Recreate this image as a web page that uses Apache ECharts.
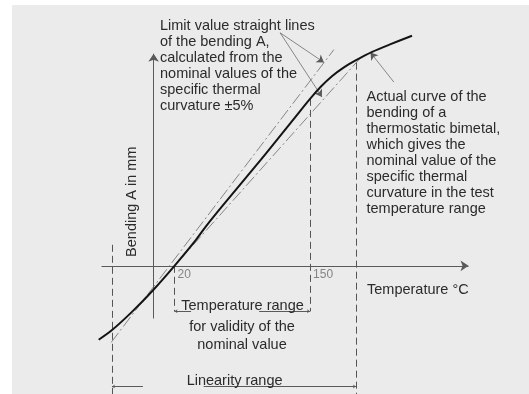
<!DOCTYPE html>
<html>
<head>
<meta charset="utf-8">
<script src="https://cdn.jsdelivr.net/npm/echarts@6/dist/echarts.min.js"></script>
<style>
  html, body { margin: 0; padding: 0; background: #fff; }
  #chart { width: 529px; height: 394px; }
</style>
</head>
<body>
<div id="chart"></div>
<script>
// Bending of a thermostatic bimetal against temperature (schematic).
const temps   = [-52.7, -40.5, -20.8, -0.8, 20, 40, 50, 66.2, 102.9, 134.7, 150, 160.5, 171.0, 182.5, 193.7, 209.6, 226.1, 247.8];
const bending = [-7.5, -6.57, -4.67, -2.5, 0, 2.55, 3.98, 6.1, 10.76, 14.93, 16.93, 18.18, 19.23, 20.13, 20.83, 21.7, 22.43, 23.33];

// Limit value straight lines (nominal specific thermal curvature +/-5 %)
const upperLimit = [[-40.7, -7.77], [172.9, 21.93]];
const lowerLimit = [[-0.8, -2.47], [198.5, 21.1]];

// Temperature range for validity of the nominal value and linearity range
const validityRange  = [20, 150];
const linearityRange = [-40, 194];
const tickLabels = [20, 150];

const curve = temps.map((t, i) => [t, bending[i]]);
const bendingAt = t => {
  const i = temps.indexOf(t);
  return i >= 0 ? bending[i] : 0;
};

const FONT = '14.5px "Liberation Sans", Arial, Helvetica, sans-serif';
const INK = '#2b2b2b';

const chart = echarts.init(document.getElementById('chart'), null, { renderer: 'canvas' });

function label(text, x, y, align, extra) {
  return Object.assign({
    type: 'text', z: 10, silent: true,
    style: {
      text: text, x: x, y: y, font: FONT, fill: INK, lineHeight: 16,
      textAlign: align, align: align,
      textVerticalAlign: 'middle', verticalAlign: 'middle'
    }
  }, extra || {});
}

const option = {
  backgroundColor: '#ffffff',
  animation: false,
  grid: { left: 7.66, width: 523, top: 19.3, height: 380, containLabel: false },
  xAxis: { type: 'value', min: -140, max: 360, show: false },
  yAxis: { type: 'value', min: -13, max: 25, show: false },
  graphic: [
    { type: 'rect', silent: true, z: -10, shape: { x: 12, y: 5, width: 517, height: 389 }, style: { fill: '#ebebeb' } },
    { type: 'text', z: 10, silent: true, style: {
        text: 'Limit value straight lines\nof the bending A,\ncalculated from the\nnominal values of the\nspecific thermal\ncurvature \u00b15%',
        x: 160, y: 17.8, font: FONT, fill: INK, lineHeight: 16,
        textAlign: 'left', textVerticalAlign: 'top', align: 'left', verticalAlign: 'top' } },
    { type: 'text', z: 10, silent: true, style: {
        text: 'Actual curve of the\nbending of a\nthermostatic bimetal,\nwhich gives the\nnominal value of the\nspecific thermal\ncurvature in the test\ntemperature range',
        x: 366.5, y: 89, font: FONT, fill: INK, lineHeight: 16,
        textAlign: 'left', textVerticalAlign: 'top', align: 'left', verticalAlign: 'top' } },
    label('Temperature \u00b0C', 367, 289.5, 'left'),
    { type: 'text', z: 10, silent: true, x: 131.6, y: 201.7, rotation: Math.PI / 2, style: {
        text: 'Bending A in mm', x: 0, y: 0, font: FONT, fill: INK,
        textAlign: 'center', textVerticalAlign: 'middle', align: 'center', verticalAlign: 'middle' } },
    label('Temperature range', 242.5, 306.3, 'center'),
    label('for validity of the', 242, 327.3, 'center'),
    label('nominal value', 242, 344.6, 'center'),
    label('Linearity range', 234.6, 380.6, 'center')
  ],
  series: [
    // coordinate axes with arrow tips
    {
      type: 'lines', coordinateSystem: 'cartesian2d', z: 3, silent: true,
      symbol: ['none', 'arrow'], symbolSize: [3, 8],
      lineStyle: { color: '#5a5a5a', width: 1, opacity: 1 },
      data: [
        { coords: [[-50, 0], [302, 0]] },
        { coords: [[0, -5.34], [0, 21.5]] }
      ]
    },
    // dashed reference verticals
    {
      type: 'lines', coordinateSystem: 'cartesian2d', z: 3, silent: true,
      lineStyle: { color: '#555', width: 1, type: [7, 4], opacity: 1 },
      data: [
        { coords: [[linearityRange[0], 2.13], [linearityRange[0], -13]] },
        { coords: [[linearityRange[1], 20.6], [linearityRange[1], -13]] },
        { coords: [[validityRange[0], bendingAt(validityRange[0])], [validityRange[0], -4.62]] },
        { coords: [[validityRange[1], bendingAt(validityRange[1])], [validityRange[1], -4.62]] }
      ]
    },
    // limit value straight lines
    {
      type: 'lines', coordinateSystem: 'cartesian2d', z: 4, silent: true,
      lineStyle: { color: '#6a6a6a', width: 0.8, type: [12, 3, 2, 3], opacity: 1 },
      data: [ { coords: upperLimit }, { coords: lowerLimit } ]
    },
    // dimension lines (arrow at the outer end)
    {
      type: 'lines', coordinateSystem: 'cartesian2d', z: 4, silent: true,
      symbol: ['arrow', 'none'], symbolSize: [3, 8],
      lineStyle: { color: '#5a5a5a', width: 1, opacity: 1 },
      data: [
        { coords: [[validityRange[0], -4.62], [35.9, -4.62]] },
        { coords: [[validityRange[1], -4.62], [101.2, -4.62]] },
        { coords: [[linearityRange[0], -12.24], [-10.3, -12.24]] },
        { coords: [[linearityRange[1], -12.24], [48, -12.24]] }
      ]
    },
    // leader lines of the annotations
    {
      type: 'lines', coordinateSystem: 'cartesian2d', z: 4, silent: true,
      symbol: ['none', 'arrow'], symbolSize: [3, 7],
      lineStyle: { color: '#5a5a5a', width: 0.7, opacity: 1 },
      data: [
        { coords: [[121.3, 23.63], [163.3, 20.63]] },
        { coords: [[121.3, 23.63], [161.4, 17.13]] },
        { coords: [[230.4, 18.63], [208, 21.63]] }
      ]
    },
    // actual bending curve
    {
      type: 'line', z: 6, silent: true,
      data: curve, smooth: 0.3, showSymbol: false, clip: false,
      lineStyle: { color: '#141414', width: 2 }
    },
    // temperature marks on the axis
    {
      type: 'scatter', z: 7, silent: true,
      data: tickLabels.map(t => [t, 0]),
      symbolSize: 0,
      label: {
        show: true, position: [3, 3], align: 'left', verticalAlign: 'top',
        formatter: p => String(p.value[0]),
        font: '10px "Liberation Sans Narrow", "DejaVu Sans Condensed", sans-serif',
        color: '#6a6a6a'
      }
    }
  ]
};

chart.setOption(option);
</script>
</body>
</html>
